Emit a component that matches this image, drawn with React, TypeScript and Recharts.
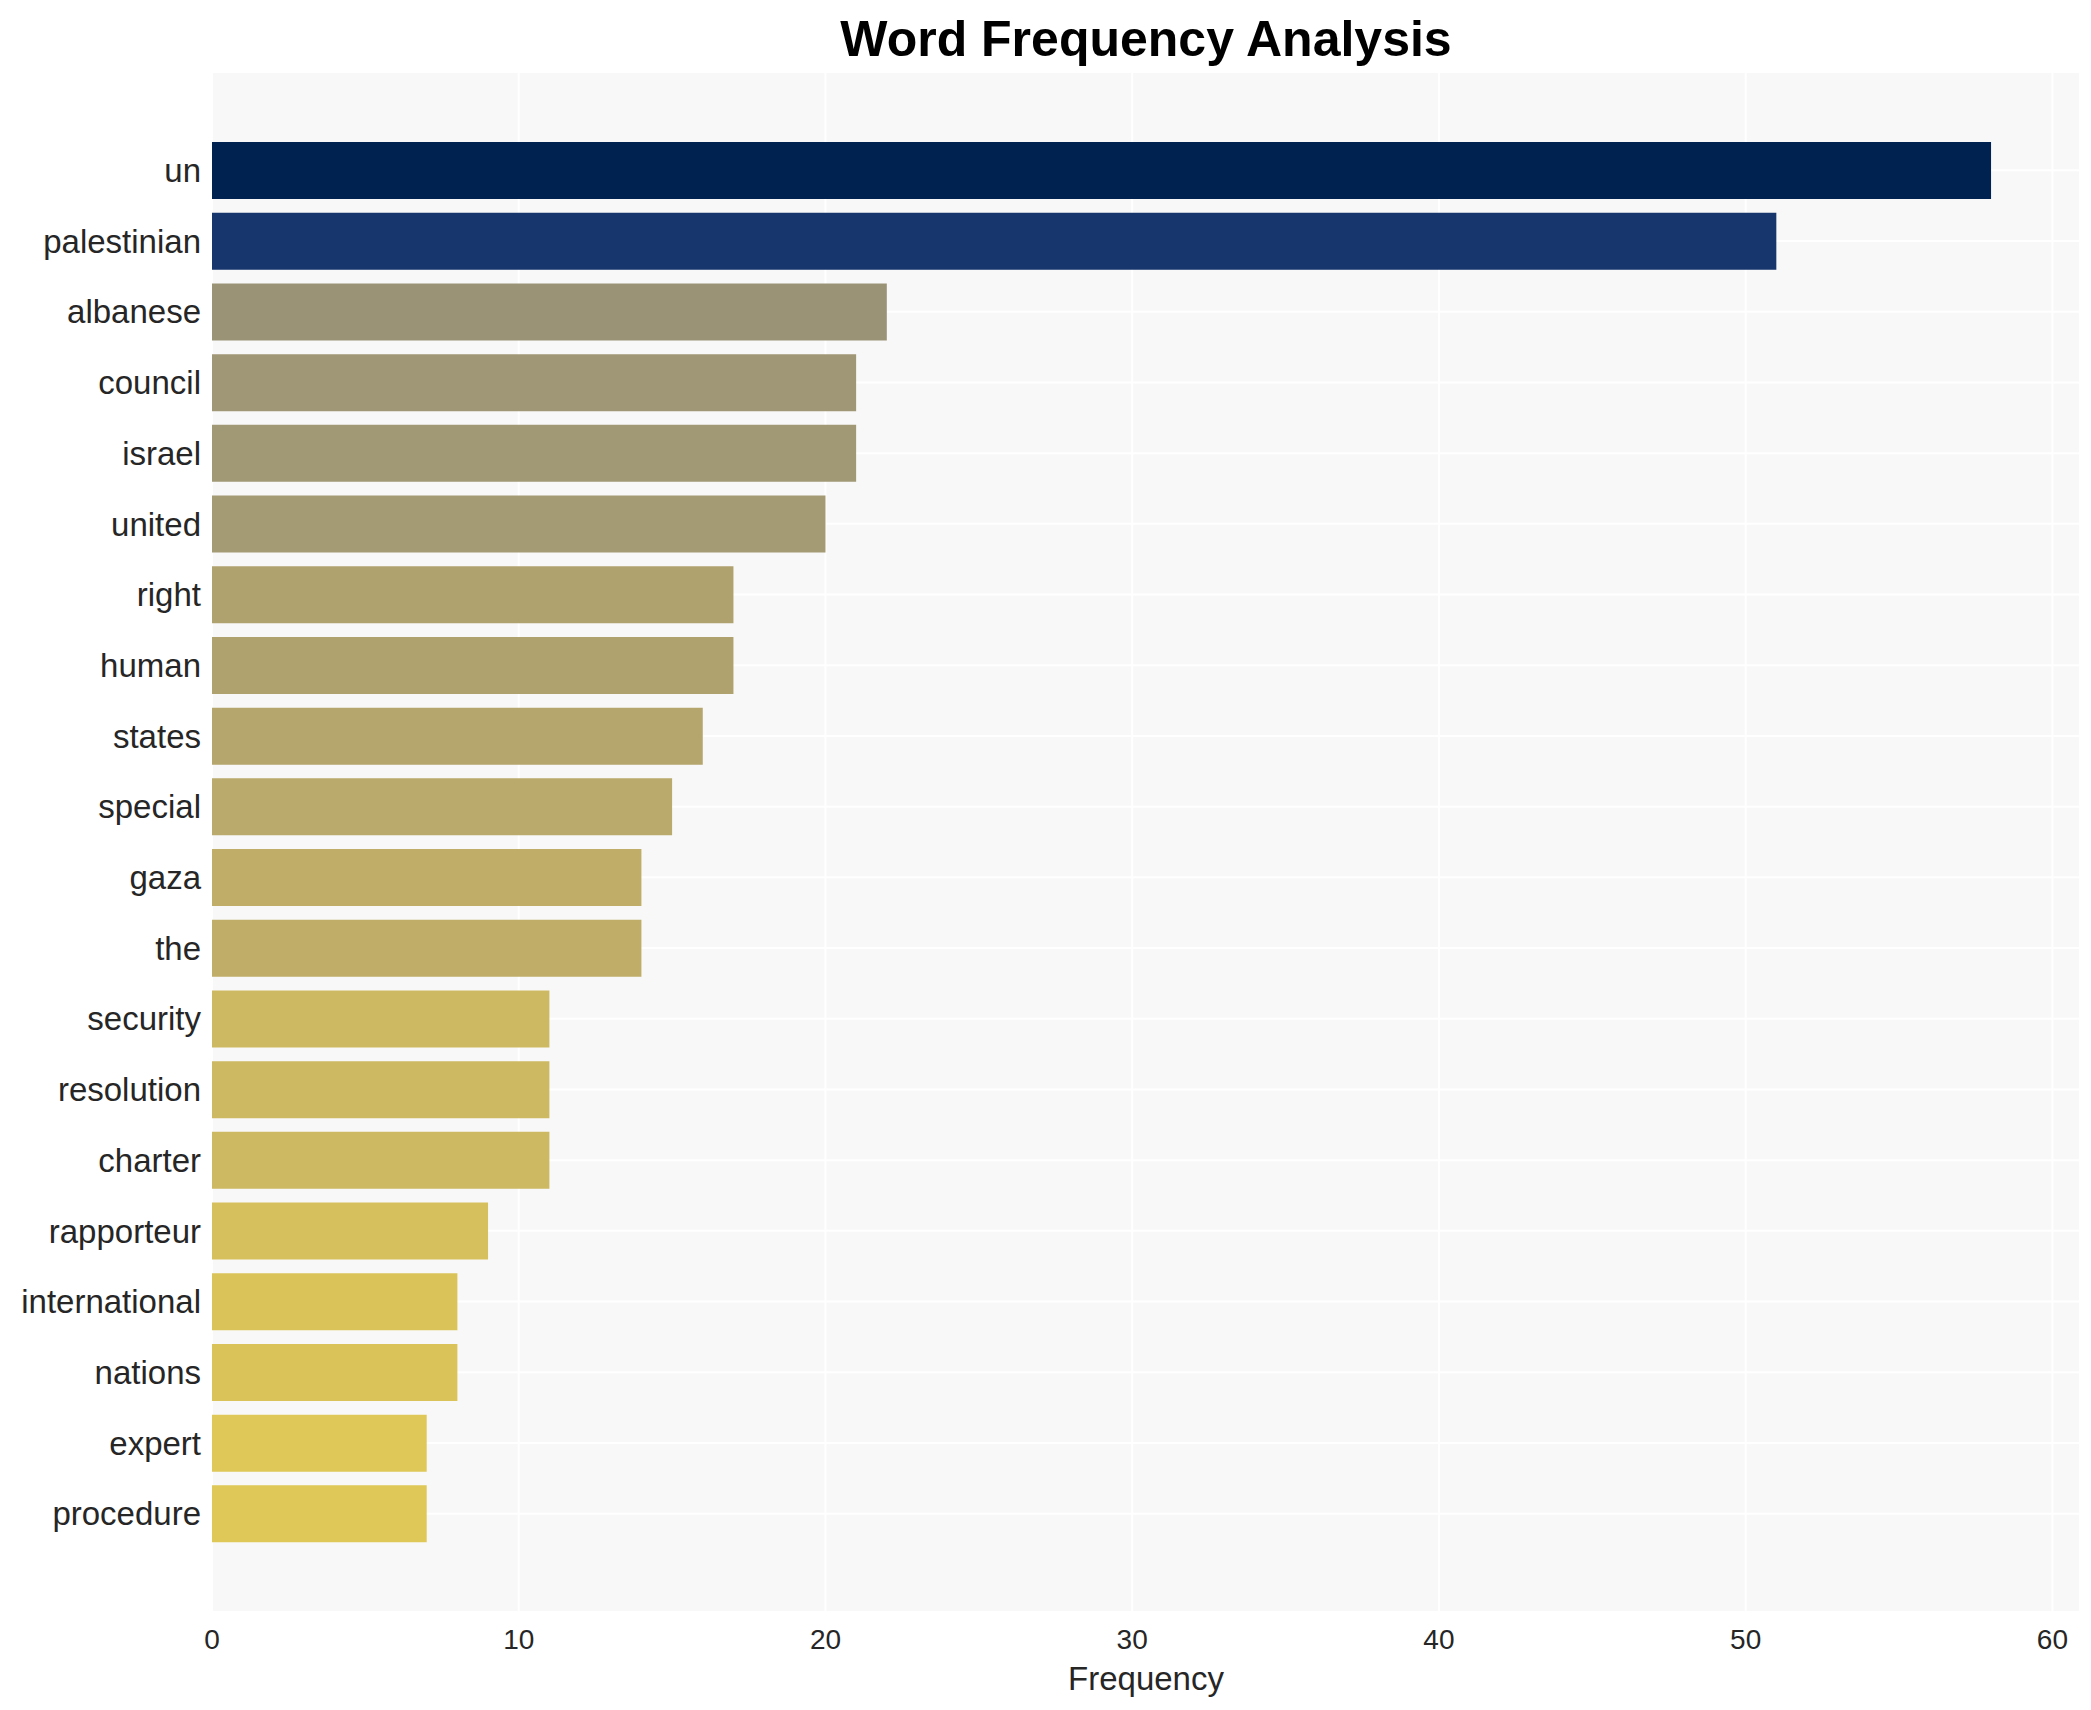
import React from "react";
import { BarChart, Bar, XAxis, YAxis, CartesianGrid, Cell } from "recharts";

const words = [
  "un", "palestinian", "albanese", "council", "israel", "united", "right", "human",
  "states", "special", "gaza", "the", "security", "resolution", "charter",
  "rapporteur", "international", "nations", "expert", "procedure",
];
const counts = [58, 51, 22, 21, 21, 20, 17, 17, 16, 15, 14, 14, 11, 11, 11, 9, 8, 8, 7, 7];
const barColors = [
  "#002251", "#16366d", "#9b9376", "#a09776", "#a19876", "#a49a74", "#b0a26f", "#b0a26f",
  "#b5a66d", "#baaa6b", "#c0ae68", "#c0ae68", "#cdb962", "#cdb962", "#cdb962",
  "#d5c05d", "#dac45a", "#dac45a", "#dfc857", "#dfc857",
];
const xTicks = [0, 10, 20, 30, 40, 50, 60];

const data = words.map((w, i) => ({ word: w, value: counts[i] }));

const FONT = "'Liberation Sans', Arial, sans-serif";

export default function App() {
  return (
    <div style={{ position: "absolute", left: 0, top: 0, width: 2091, height: 1710, background: "#ffffff" }}>
      <BarChart
        width={2091}
        height={1710}
        data={data}
        layout="vertical"
        margin={{ top: 72, right: 11, bottom: 0, left: 0 }}
        barCategoryGap="10%"
      >
        <CartesianGrid fill="#f8f8f8" stroke="#ffffff" strokeWidth={2} />
        <XAxis
          type="number"
          domain={[0, 60.9]}
          ticks={xTicks}
          height={98}
          axisLine={false}
          tickLine={false}
          tickSize={0}
          tickMargin={17}
          tick={{ fontSize: 28, fill: "#262626", fontFamily: FONT }}
          allowDataOverflow
        />
        <YAxis
          type="category"
          dataKey="word"
          width={212}
          axisLine={false}
          tickLine={false}
          tickSize={0}
          tickMargin={11}
          padding={{ top: 63, bottom: 63 }}
          interval={0}
          tick={{ fontSize: 33, fill: "#262626", fontFamily: FONT }}
        />
        <Bar dataKey="value" isAnimationActive={false}>
          {data.map((d, i) => (
            <Cell key={d.word} fill={barColors[i]} />
          ))}
        </Bar>
      </BarChart>
      <svg
        width={2091}
        height={1710}
        style={{ position: "absolute", left: 0, top: 0, pointerEvents: "none" }}
      >
        <text x={1146} y={56} textAnchor="middle" fontSize={50} fontWeight="bold" fontFamily={FONT} fill="#000000">
          Word Frequency Analysis
        </text>
        <text x={1146} y={1690} textAnchor="middle" fontSize={33} fontFamily={FONT} fill="#262626">
          Frequency
        </text>
      </svg>
    </div>
  );
}
